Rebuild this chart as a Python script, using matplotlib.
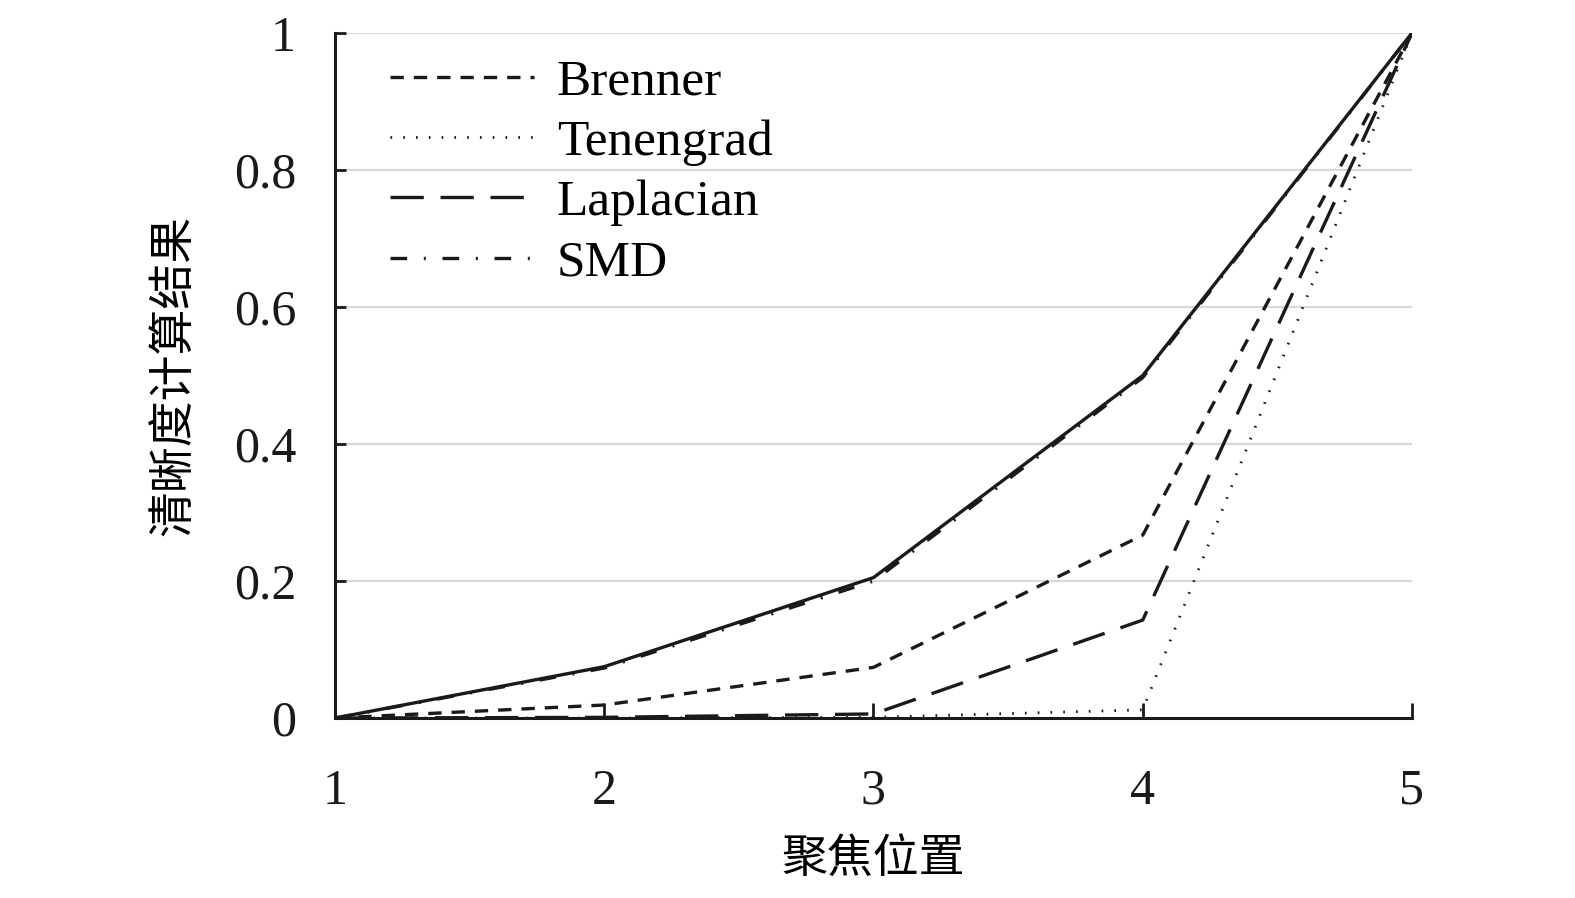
import matplotlib.pyplot as plt

plt.rcParams['font.family'] = ['Liberation Serif', 'Noto Sans CJK SC', 'DejaVu Sans']

positions = [1, 2, 3, 4, 5]
reference = [0, 0.075, 0.205, 0.500, 1.0]
brenner = [0, 0.019, 0.074, 0.267, 1.0]
tenengrad = [0, 0.0, 0.001, 0.012, 1.0]
laplacian = [0, 0.001, 0.006, 0.143, 1.0]
smd = [0, 0.073, 0.200, 0.497, 1.0]

yticks = [0, 0.2, 0.4, 0.6, 0.8, 1]
ytick_labels = ['0', '0.2', '0.4', '0.6', '0.8', '1']

fig = plt.figure(figsize=(15.75, 8.98), dpi=100)
ax = fig.add_axes([0.2127, 0.2004, 0.6838, 0.7629])

for y in yticks[1:]:
    ax.axhline(y, color='#d9d9d9', lw=1.6, zorder=0)

ax.plot(positions, reference, color='#1a1a1a', lw=2.4, solid_capstyle='butt')
ax.plot(positions, brenner, color='#1a1a1a', lw=2.4, dashes=(4, 3), label='Brenner')
ax.plot(positions, tenengrad, color='#1a1a1a', lw=2.0, dashes=(0.6, 4), label='Tenengrad')
ax.plot(positions, laplacian, color='#1a1a1a', lw=2.4, dashes=(10, 5), label='Laplacian')
ax.plot(positions, smd, color='#1a1a1a', lw=2.4, dashes=(5, 5, 0.6, 5), label='SMD')

ax.set_xlim(1, 5)
ax.set_ylim(0, 1)
ax.set_xticks(positions)
ax.set_yticks(yticks)
ax.set_yticklabels(ytick_labels)

for side in ['top', 'right']:
    ax.spines[side].set_visible(False)
for side in ['left', 'bottom']:
    ax.spines[side].set_linewidth(2.2)
    ax.spines[side].set_color('#1a1a1a')

ax.tick_params(axis='x', direction='in', length=11, width=2, pad=36,
               labelsize=36, colors='#1a1a1a')
ax.tick_params(axis='y', direction='in', length=8, width=2, pad=28,
               labelsize=36, colors='#1a1a1a')

ax.set_xlabel('聚焦位置', fontsize=33, family=['Noto Sans CJK SC'], labelpad=14)
ax.set_ylabel('清晰度计算结果', fontsize=33, family=['Noto Sans CJK SC'], labelpad=26)

leg = ax.legend(loc='upper left', frameon=False, fontsize=37, handlelength=2.8,
                handletextpad=0.45, labelspacing=0.26,
                bbox_to_anchor=(0.008, 1.03))

fig.savefig('out.png', dpi=100)
